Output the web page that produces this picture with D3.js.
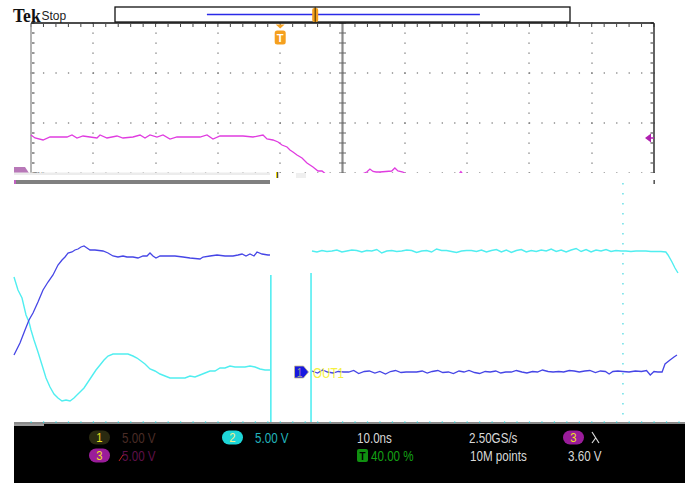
<!DOCTYPE html>
<html>
<head>
<meta charset="utf-8">
<script src="https://cdn.jsdelivr.net/npm/d3@7"></script>
<style>
  html, body { margin: 0; padding: 0; background: #fff; overflow: hidden; }
  svg { display: block; }
</style>
</head>
<body>
<svg id="scope" width="685" height="483"></svg>
<script>
// Acquisition: time in ns (10 ns/div), level in divisions from screen centre (5 V/div)

// CH3 (magenta) input edge
const ch3Trace = [
  [0.00, 1.76], [0.64, 1.70], [1.93, 1.66], [3.05, 1.72], [4.65, 1.72], [5.78, 1.72],
  [6.58, 1.76], [7.38, 1.70], [8.35, 1.74], [9.47, 1.72], [10.59, 1.70], [11.08, 1.76],
  [12.20, 1.70], [13.80, 1.74], [14.77, 1.70], [16.37, 1.72], [17.50, 1.76], [18.30, 1.70],
  [19.10, 1.76], [20.22, 1.72], [21.19, 1.76], [22.31, 1.68], [23.43, 1.72], [27.13, 1.72],
  [28.25, 1.76], [29.21, 1.68], [30.34, 1.74], [31.94, 1.74], [34.03, 1.74], [35.63, 1.72],
  [37.24, 1.76], [37.88, 1.68], [38.84, 1.66], [39.65, 1.62], [40.29, 1.56], [41.09, 1.52],
  [41.57, 1.46], [42.05, 1.42], [42.70, 1.36], [43.50, 1.30], [44.30, 1.20], [45.26, 1.12],
  [46.07, 1.04], [46.71, 1.04], [47.40, 0.97], [48.00, 0.95], [49.60, 0.96], [51.20, 0.95],
  [52.80, 0.96], [53.90, 1.02], [54.40, 1.08], [54.90, 1.03], [55.40, 1.02], [56.00, 1.02],
  [57.90, 1.04], [58.40, 1.10], [58.90, 1.04], [59.70, 1.02], [60.50, 0.95], [65.00, 0.96],
  [68.60, 0.96], [69.00, 1.03], [69.40, 0.96], [72.00, 0.95], [80.00, 0.96], [90.00, 0.95],
  [100.00, 0.96]
];

// CH1 (blue) OUT1 – first segment
const ch1Early = [
  [-2.73, -2.64], [-1.77, -2.40], [-0.96, -2.14], [-0.32, -1.94], [0.32, -1.80], [1.12, -1.58],
  [1.93, -1.34], [2.73, -1.18], [3.53, -1.04], [4.33, -0.84], [4.98, -0.74], [5.46, -0.68],
  [5.94, -0.60], [6.58, -0.58], [7.06, -0.54], [7.54, -0.52], [8.03, -0.48], [8.51, -0.46],
  [8.99, -0.50], [9.47, -0.54], [10.27, -0.54], [11.56, -0.56], [12.36, -0.60], [13.16, -0.66],
  [13.96, -0.68], [14.77, -0.66], [15.41, -0.68], [16.37, -0.68], [17.17, -0.70], [17.98, -0.66],
  [18.62, -0.66], [19.10, -0.60], [19.58, -0.66], [20.06, -0.70], [20.71, -0.66], [21.83, -0.66],
  [23.11, -0.66], [24.40, -0.68], [25.52, -0.70], [27.13, -0.72], [27.61, -0.68], [28.73, -0.66],
  [29.86, -0.64], [31.14, -0.66], [32.42, -0.66], [33.23, -0.64], [33.87, -0.62], [34.51, -0.66],
  [35.15, -0.62], [35.79, -0.66], [36.28, -0.58], [37.08, -0.62], [38.04, -0.64], [38.36, -0.64]
];

// CH1 (blue) OUT1 – second segment
const ch1Late = [
  [45.1, -2.96], [46.0, -3.00], [46.8, -2.94], [47.6, -2.98], [48.5, -3.00], [49.3, -2.97],
  [50.2, -2.98], [51.0, -2.98], [51.8, -2.95], [52.6, -3.01], [53.5, -2.97], [54.3, -2.96],
  [55.2, -3.00], [56.0, -2.97], [56.9, -3.02], [57.7, -2.97], [58.5, -2.95], [59.4, -2.99],
  [60.2, -2.98], [61.1, -2.98], [61.9, -2.98], [62.8, -2.96], [63.6, -3.00], [64.4, -2.97],
  [65.3, -2.95], [66.1, -2.99], [67.0, -2.98], [67.8, -3.01], [68.7, -2.96], [69.5, -2.98],
  [70.3, -2.95], [71.2, -2.99], [72.0, -3.01], [72.9, -2.97], [73.7, -2.98], [74.6, -2.96],
  [75.4, -3.00], [76.2, -2.98], [77.1, -2.98], [77.9, -2.95], [78.8, -2.98], [79.6, -3.00],
  [80.5, -2.97], [81.3, -2.98], [82.1, -2.94], [83.0, -2.97], [83.8, -2.98], [84.7, -2.97],
  [85.5, -2.98], [86.4, -2.95], [87.2, -2.96], [88.0, -2.98], [88.9, -2.96], [89.7, -2.95],
  [90.6, -2.99], [91.4, -2.96], [92.2, -2.97], [92.8, -3.02], [93.4, -2.97], [94.2, -2.96],
  [95.0, -2.97], [96.0, -2.98], [97.0, -2.96], [98.0, -2.97], [98.8, -2.95], [99.4, -3.04],
  [100.0, -2.97], [100.6, -2.98], [101.3, -2.98], [101.77, -2.82], [102.57, -2.74],
  [103.21, -2.68], [103.69, -2.64]
];

// CH2 (cyan) – first segment
const ch2Early = [
  [-2.73, -1.08], [-2.09, -1.34], [-1.44, -1.50], [-0.80, -1.84], [-0.32, -1.98], [0.00, -2.14],
  [0.48, -2.34], [1.12, -2.58], [1.77, -2.84], [2.41, -3.10], [3.05, -3.28], [3.69, -3.42],
  [4.33, -3.50], [4.98, -3.56], [5.62, -3.54], [6.26, -3.56], [6.90, -3.50], [7.54, -3.42],
  [7.87, -3.38], [8.51, -3.30], [9.15, -3.18], [9.79, -3.06], [10.43, -2.94], [11.08, -2.84],
  [11.72, -2.74], [12.36, -2.66], [13.16, -2.62], [13.96, -2.62], [14.77, -2.62], [15.57, -2.62],
  [16.37, -2.66], [17.01, -2.70], [17.66, -2.76], [18.30, -2.82], [19.10, -2.92], [19.90, -2.96],
  [20.71, -3.02], [21.51, -3.06], [22.31, -3.10], [23.11, -3.10], [23.92, -3.10], [24.72, -3.10],
  [25.52, -3.06], [26.32, -3.08], [27.13, -3.04], [27.93, -3.00], [28.73, -2.96], [29.53, -2.96],
  [30.34, -2.90], [31.14, -2.90], [31.94, -2.86], [32.74, -2.88], [33.55, -2.88], [34.35, -2.88],
  [35.15, -2.86], [35.96, -2.88], [36.76, -2.92], [37.56, -2.94], [38.36, -2.94]
];

// CH2 (cyan) – second segment
const ch2Late = [
  [45.1, -0.56], [45.9, -0.58], [46.7, -0.55], [47.5, -0.57], [48.3, -0.56], [49.1, -0.54],
  [49.9, -0.58], [50.7, -0.56], [51.5, -0.54], [52.3, -0.55], [53.1, -0.58], [53.9, -0.55],
  [54.7, -0.56], [55.5, -0.53], [56.3, -0.60], [57.1, -0.56], [57.9, -0.55], [58.7, -0.57],
  [59.5, -0.56], [60.3, -0.54], [61.1, -0.55], [61.9, -0.59], [62.7, -0.56], [63.5, -0.55],
  [64.3, -0.58], [65.1, -0.52], [65.9, -0.55], [66.7, -0.55], [67.5, -0.57], [68.3, -0.59],
  [69.1, -0.56], [69.9, -0.55], [70.7, -0.55], [71.5, -0.57], [72.3, -0.54], [73.1, -0.58],
  [73.9, -0.55], [74.7, -0.53], [75.5, -0.58], [76.3, -0.54], [77.1, -0.59], [77.9, -0.55],
  [78.7, -0.53], [79.5, -0.58], [80.3, -0.55], [81.1, -0.57], [81.9, -0.54], [82.7, -0.56],
  [83.5, -0.52], [84.3, -0.57], [85.1, -0.54], [85.9, -0.58], [86.7, -0.54], [87.5, -0.51],
  [88.3, -0.57], [89.1, -0.53], [89.9, -0.58], [90.7, -0.54], [91.5, -0.56], [92.3, -0.53],
  [93.1, -0.57], [93.9, -0.55], [94.7, -0.56], [95.5, -0.56], [96.3, -0.57], [97.1, -0.56],
  [97.9, -0.56], [98.7, -0.56], [99.5, -0.57], [100.3, -0.57], [101.1, -0.57], [101.9, -0.58],
  [102.25, -0.64], [102.89, -0.78], [103.37, -0.90], [103.85, -1.00]
];

// Cursor / marker positions
const cursorTimes = [38.5, 44.95];
const cursorTops = [-1.04, -1.00];
const markerTime = 95.0;
const ch1RefLevel = -2.98;
const ch3RefLevel = 1.0;
const triggerLevelDiv = 1.70;
const triggerTime = 40.0;

// Record overview (fraction of the record)
const recordView = [0.202, 0.802];
const recordTrigger = 0.44;

// Readouts
const channelIds = ["1", "2", "3"];
const channelScales = ["5.00 V", "5.00 V", "5.00 V"];
const timebaseText = "10.0ns";
const sampleRateText = "2.50GS/s";
const recordLengthText = "10M points";
const triggerPosText = "40.00 %";
const triggerSourceId = "3";
const triggerLevelText = "3.60 V";
const ch1Label = "OUT1";

const svg = d3.select("#scope");
const x = d3.scaleLinear().domain([0, 100]).range([31, 654]);
const y = d3.scaleLinear().domain([-4, 4]).range([423, 23]);
const rec = d3.scaleLinear().domain([0, 1]).range([115, 570]);
const trace = d3.line().x(d => x(d[0])).y(d => y(d[1]));

const sans = "'Liberation Sans', 'DejaVu Sans', sans-serif";

// condensed text: horizontal squeeze around the anchor point
const narrowText = (parent, tx, ty, txt, size, color, squeeze = 0.84, anchor = "start", weight = "normal") =>
  parent.append("text")
    .attr("transform", `translate(${tx},${ty}) scale(${squeeze},1)`)
    .attr("text-anchor", anchor)
    .attr("font-family", sans).attr("font-size", size).attr("font-weight", weight)
    .attr("fill", color).text(txt);

svg.append("rect").attr("width", 685).attr("height", 483).attr("fill", "#fff");

// ---- header ----
svg.append("text").attr("transform", "translate(13,21.5) scale(0.9,1)")
  .attr("font-family", "'Liberation Serif', serif").attr("font-weight", "bold")
  .attr("font-size", 19.5).attr("fill", "#111").text("Tek");
svg.append("text").attr("x", 41.5).attr("y", 20)
  .attr("font-family", sans)
  .attr("font-size", 12).attr("fill", "#222").text("Stop");

svg.append("rect").attr("x", rec(0)).attr("y", 7).attr("width", rec(1) - rec(0)).attr("height", 15)
  .attr("fill", "#fff").attr("stroke", "#111").attr("stroke-width", 1.3);
svg.append("line").attr("x1", rec(recordView[0])).attr("x2", rec(recordView[1]))
  .attr("y1", 14.5).attr("y2", 14.5).attr("stroke", "#2a2ae8").attr("stroke-width", 1.6);
svg.append("rect").attr("x", rec(recordTrigger) - 3).attr("y", 8).attr("width", 6).attr("height", 14)
  .attr("rx", 2).attr("fill", "#f5a01e");
svg.append("line").attr("x1", rec(recordTrigger)).attr("x2", rec(recordTrigger))
  .attr("y1", 7).attr("y2", 22).attr("stroke", "#3a2a00").attr("stroke-width", 1);

// ---- graticule (upper part) ----
svg.append("defs").append("clipPath").attr("id", "upperClip")
  .append("rect").attr("x", 0).attr("y", 0).attr("width", 685).attr("height", 173);
const upper = svg.append("g").attr("clip-path", "url(#upperClip)");

const dot = (gx, gy, w = 1, h = 1, c = "#555") =>
  upper.append("rect").attr("x", gx).attr("y", gy).attr("width", w).attr("height", h).attr("fill", c);

const yMinor = d3.range(-4, 4.001, 0.2).filter(v => y(v) < 175);
const xMinor = d3.range(0, 100.001, 2);

// inner vertical divisions
[10, 20, 30, 40, 60, 70, 80, 90].forEach(t => {
  yMinor.forEach(v => dot(Math.round(x(t)) - 0.5, y(v) - 0.5, 1, 1.3));
});
// horizontal divisions
[3, 2, 1].forEach(v => {
  xMinor.forEach(t => dot(x(t) - 0.5, y(v) - 0.5, 1.3, 1));
});
// top edge ticks
xMinor.forEach(t => dot(x(t) - 0.5, 24, 1, 3, "#444"));
// left / right / centre edges
upper.append("line").attr("x1", x(0)).attr("x2", x(0)).attr("y1", y(4)).attr("y2", 176)
  .attr("stroke", "#9a9a9a").attr("stroke-width", 1.5);
upper.append("line").attr("x1", x(100)).attr("x2", x(100)).attr("y1", y(4)).attr("y2", 176)
  .attr("stroke", "#222").attr("stroke-width", 1.4);
upper.append("line").attr("x1", x(50)).attr("x2", x(50)).attr("y1", y(4)).attr("y2", 176)
  .attr("stroke", "#8a8a8a").attr("stroke-width", 2.2);
yMinor.forEach(v => {
  dot(x(0) + 1, y(v) - 0.5, 2.5, 1, "#333");
  dot(x(100) - 3.5, y(v) - 0.5, 2.5, 1, "#333");
  dot(x(50) - 3.5, y(v) - 0.5, 7, 1, "#666");
});
upper.append("line").attr("x1", x(0)).attr("x2", x(100)).attr("y1", y(4)).attr("y2", y(4))
  .attr("stroke", "#111").attr("stroke-width", 1.5);

// CH3 ground marker and label (partly hidden by the lower pane)
upper.append("path")
  .attr("d", `M14,${y(ch3RefLevel) - 6}h11l4,6l-4,6h-11z`)
  .attr("fill", "#b878b8");
narrowText(upper, 33, y(ch3RefLevel) + 5, "TN", 9, "#222");

// CH3 trace
upper.append("path").datum(ch3Trace).attr("d", trace)
  .attr("fill", "none").attr("stroke", "#e03ce0").attr("stroke-width", 1.3);

// trigger level arrow (right edge)
upper.append("path")
  .attr("d", `M${x(100) - 9},${y(triggerLevelDiv)}l6,-4.5v9z`)
  .attr("fill", "#b020b0");
upper.append("line").attr("x1", x(100) - 4).attr("x2", x(100)).attr("y1", y(triggerLevelDiv)).attr("y2", y(triggerLevelDiv))
  .attr("stroke", "#b020b0").attr("stroke-width", 1.5);

// trigger position marker
const tx = x(triggerTime);
upper.append("path").attr("d", `M${tx - 4.5},24.5h9l-4.5,4z`).attr("fill", "#f5a01e");
upper.append("rect").attr("x", tx - 5.5).attr("y", 30.5).attr("width", 11).attr("height", 14)
  .attr("rx", 2.5).attr("fill", "#f5a01e");
upper.append("text").attr("x", tx).attr("y", 42).attr("text-anchor", "middle")
  .attr("font-family", sans).attr("font-weight", "bold")
  .attr("font-size", 11).attr("fill", "#fff").text("T");

// ---- lower pane ----
svg.append("rect").attr("x", 0).attr("y", 173).attr("width", 685).attr("height", 250).attr("fill", "#fff");
svg.append("rect").attr("x", 14).attr("y", 172.5).attr("width", 256).attr("height", 2.5).attr("fill", "#ececec");
svg.append("rect").attr("x", 14).attr("y", 180).attr("width", 256).attr("height", 4).attr("fill", "#808080");
svg.append("rect").attr("x", 14).attr("y", 180).attr("width", 2).attr("height", 4).attr("fill", "#c060c0");
svg.append("rect").attr("x", 276).attr("y", 172).attr("width", 1.2).attr("height", 6).attr("fill", "#e8d000");
svg.append("rect").attr("x", 277.2).attr("y", 172).attr("width", 1).attr("height", 6).attr("fill", "#222");
svg.append("rect").attr("x", 296).attr("y", 173).attr("width", 10).attr("height", 5).attr("fill", "#efefef");
svg.append("rect").attr("x", x(100) - 0.5).attr("y", 180).attr("width", 1.3).attr("height", 4).attr("fill", "#333");

// dotted time marker
d3.range(y(4) + 160, y(-4) - 2, 10).forEach(py => {
  svg.append("rect").attr("x", x(markerTime) - 0.5).attr("y", py).attr("width", 1.2).attr("height", 1.5)
    .attr("fill", "#40d8e0");
});

// cursors
cursorTimes.forEach((t, i) => {
  svg.append("line").attr("x1", x(t)).attr("x2", x(t)).attr("y1", y(cursorTops[i])).attr("y2", y(-4))
    .attr("stroke", "#48ecf0").attr("stroke-width", 1.5);
});

// CH2 and CH1 traces
[ch2Early, ch2Late].forEach(seg => {
  svg.append("path").datum(seg).attr("d", trace)
    .attr("fill", "none").attr("stroke", "#50eef0").attr("stroke-width", 1.4);
});
[ch1Early, ch1Late].forEach(seg => {
  svg.append("path").datum(seg).attr("d", trace)
    .attr("fill", "none").attr("stroke", "#4646e6").attr("stroke-width", 1.3);
});

// CH1 reference marker + label
const my = y(ch1RefLevel);
svg.append("path").attr("d", `M294.5,${my - 6}h9l5,6l-5,6h-9z`)
  .attr("fill", "#1818e0").attr("stroke", "#c9c28a").attr("stroke-width", 0.8);
narrowText(svg, 299.5, my + 4.5, channelIds[0], 12, "#9a9a9a", 0.84, "middle");
narrowText(svg, 313, my + 5.5, ch1Label, 14.5, "#f4f040", 0.8);

// ---- readout panel ----
svg.append("rect").attr("x", 14).attr("y", 423).attr("width", 671).attr("height", 60).attr("fill", "#000");
svg.append("rect").attr("x", 14).attr("y", 422).attr("width", 671).attr("height", 2).attr("fill", "#8a8a8a");
svg.append("rect").attr("x", 14).attr("y", 424).attr("width", 30).attr("height", 2).attr("fill", "#9a9a9a");
d3.range(0, 105, 2).forEach(t => {
  if (x(t) > 14) svg.append("rect").attr("x", x(t) - 0.5).attr("y", 421.5).attr("width", 1.2).attr("height", 1.5)
    .attr("fill", "#30c8d0");
});

const badge = (bx, by, id, fill, color) => {
  svg.append("rect").attr("x", bx).attr("y", by).attr("width", 21).attr("height", 14).attr("rx", 7)
    .attr("fill", fill);
  narrowText(svg, bx + 10.5, by + 11.5, id, 13.5, color, 0.84, "middle");
};
const readout = (rx, ry, txt, color) => narrowText(svg, rx, ry, txt, 14, color, 0.83);

badge(89, 430.5, channelIds[0], "#2a2a10", "#e8e020");
readout(122, 443, channelScales[0], "#4a2c26");
badge(222, 430.5, channelIds[1], "#1ed6d8", "#f2f090");
readout(255, 443, channelScales[1], "#22b4bc");
badge(89, 448.5, channelIds[2], "#9a1c9a", "#f0e020");
readout(122, 461, channelScales[2], "#5e1048");
svg.append("line").attr("x1", 119).attr("x2", 123).attr("y1", 461).attr("y2", 455)
  .attr("stroke", "#c02020").attr("stroke-width", 1);

readout(357, 443, timebaseText, "#d8d8d8");
svg.append("rect").attr("x", 357).attr("y", 449).attr("width", 11).attr("height", 13).attr("rx", 2)
  .attr("fill", "#109010");
narrowText(svg, 362.5, 460, "T", 11, "#000", 0.9, "middle", "bold");
readout(371, 461, triggerPosText, "#14a014");

readout(469, 443, sampleRateText, "#d8d8d8");
readout(470, 461, recordLengthText, "#d8d8d8");

badge(563, 430.5, triggerSourceId, "#9a1c9a", "#f0e020");
svg.append("path").attr("d", "M592,432l7,11M596,437.5l-4,5.5")
  .attr("stroke", "#d8d8d8").attr("stroke-width", 1.2).attr("fill", "none");
readout(568, 461, triggerLevelText, "#d8d8d8");
</script>
</body>
</html>
